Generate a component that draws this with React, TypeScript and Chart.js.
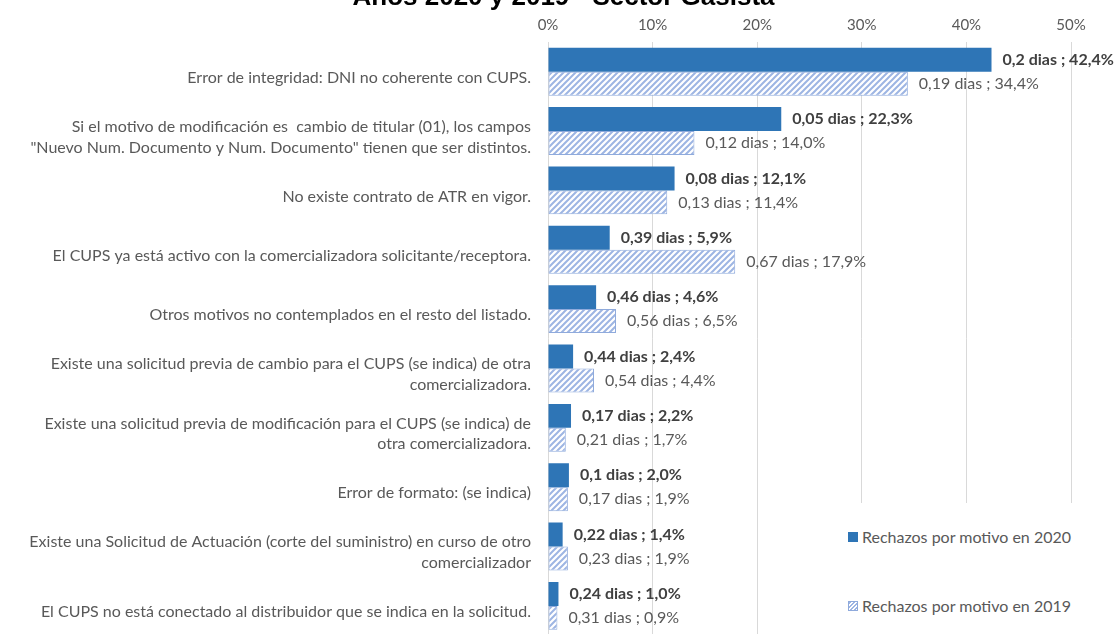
import React, { useEffect, useRef } from "react";
import { Chart, registerables } from "chart.js";

Chart.register(...registerables);

const categories: string[][] = [
  ["Error de integridad: DNI no coherente con CUPS."],
  ["Si el motivo de modificación es  cambio de titular (01), los campos", "\"Nuevo Num. Documento y Num. Documento\" tienen que ser distintos."],
  ["No existe contrato de ATR en vigor."],
  ["El CUPS ya está activo con la comercializadora solicitante/receptora."],
  ["Otros motivos no contemplados en el resto del listado."],
  ["Existe una solicitud previa de cambio para el CUPS (se indica) de otra", "comercializadora."],
  ["Existe una solicitud previa de modificación para el CUPS (se indica) de", "otra comercializadora."],
  ["Error de formato: (se indica)"],
  ["Existe una Solicitud de Actuación (corte del suministro) en curso de otro", "comercializador"],
  ["El CUPS no está conectado al distribuidor que se indica en la solicitud."],
];

const values2020 = [42.4, 22.3, 12.1, 5.9, 4.6, 2.4, 2.2, 2.0, 1.4, 1.0];
const values2019 = [34.4, 14.0, 11.4, 17.9, 6.5, 4.4, 1.7, 1.9, 1.9, 0.9];
const days2020 = ["0,2", "0,05", "0,08", "0,39", "0,46", "0,44", "0,17", "0,1", "0,22", "0,24"];
const days2019 = ["0,19", "0,12", "0,13", "0,67", "0,56", "0,54", "0,21", "0,17", "0,23", "0,31"];
const seriesNames = ["Rechazos por motivo en 2020", "Rechazos por motivo en 2019"];
const titleText = "Años 2020 y 2019 - Sector Gasista";

const FONT = "Lato, 'Noto Sans', sans-serif";
const BLUE = "#2E75B6";
const HATCH = "#9DB5E3";
const HATCH_BORDER = "#8FAADC";

function makePattern(): CanvasPattern | string {
  const c = document.createElement("canvas");
  c.width = 6;
  c.height = 6;
  const ctx = c.getContext("2d");
  if (!ctx) return HATCH;
  ctx.fillStyle = "#ffffff";
  ctx.fillRect(0, 0, 6, 6);
  ctx.strokeStyle = HATCH;
  ctx.lineWidth = 2;
  ctx.beginPath();
  ctx.moveTo(-1, 7);
  ctx.lineTo(7, -1);
  ctx.moveTo(-4, 4);
  ctx.lineTo(4, -4);
  ctx.moveTo(2, 10);
  ctx.lineTo(10, 2);
  ctx.stroke();
  const p = ctx.createPattern(c, "repeat");
  return p || HATCH;
}

const fmt = (v: number) => v.toFixed(1).replace(".", ",");

const labelPlugin = {
  id: "barLabels",
  afterDatasetsDraw(chart: any) {
    const ctx = chart.ctx;
    ctx.save();
    chart.data.datasets.forEach((ds: any, di: number) => {
      const meta = chart.getDatasetMeta(di);
      const days = di === 0 ? days2020 : days2019;
      ctx.font = (di === 0 ? "bold " : "") + "16px " + FONT;
      ctx.fillStyle = di === 0 ? "#404040" : "#595959";
      ctx.textAlign = "left";
      ctx.textBaseline = "middle";
      meta.data.forEach((bar: any, i: number) => {
        const text = `${days[i]} dias ; ${fmt(ds.data[i])}%`;
        ctx.fillText(text, bar.x + 11, bar.y);
      });
    });
    ctx.restore();
  },
};

const titlePlugin = {
  id: "offsetTitle",
  afterDraw(chart: any) {
    const ctx = chart.ctx;
    ctx.save();
    ctx.font = "bold 26px 'Liberation Sans', Arial, sans-serif";
    ctx.fillStyle = "#000000";
    ctx.textAlign = "center";
    ctx.textBaseline = "alphabetic";
    ctx.fillText(titleText, 563.5, 29);
    ctx.restore();
  },
};

export default function App() {
  const ref = useRef<HTMLCanvasElement>(null);

  useEffect(() => {
    if (!ref.current) return;
    const pattern = makePattern();
    const chart = new Chart(ref.current, {
      type: "bar",
      data: {
        labels: categories,
        datasets: [
          {
            label: seriesNames[0],
            data: values2020,
            backgroundColor: BLUE,
            borderWidth: 0,
            categoryPercentage: 0.807,
            barPercentage: 1,
          },
          {
            label: seriesNames[1],
            data: values2019,
            backgroundColor: pattern as any,
            borderColor: HATCH_BORDER,
            borderWidth: 1,
            borderSkipped: false,
            categoryPercentage: 0.807,
            barPercentage: 1,
          },
        ],
      },
      options: {
        indexAxis: "y",
        animation: false,
        responsive: false,
        maintainAspectRatio: false,
        layout: { padding: { left: 0, right: 49, top: 33, bottom: 9 } },
        plugins: {
          legend: { display: false },
          tooltip: { enabled: false },
          title: { display: false },
        },
        scales: {
          x: {
            position: "top",
            min: 0,
            max: 50,
            ticks: {
              stepSize: 10,
              color: "#595959",
              font: { family: FONT, size: 15 },
              padding: 8,
              callback: (v: any) => `${v}%`,
            },
            grid: { color: "#D9D9D9", lineWidth: 1, drawTicks: false, tickLength: 0 },
            border: { display: false },
            afterFit: (s: any) => {
              s.height = 33;
            },
          },
          y: {
            ticks: {
              color: "#595959",
              font: { family: FONT, size: 16, lineHeight: 1.3 },
              padding: 17,
              labelOffset: 6,
              autoSkip: false,
            },
            grid: { display: false, drawTicks: false },
            border: { display: false },
            afterFit: (s: any) => {
              s.width = 548;
            },
          },
        },
      },
      plugins: [labelPlugin, titlePlugin],
    });
    return () => chart.destroy();
  }, []);

  const legendText: React.CSSProperties = {
    position: "absolute",
    left: 62,
    fontFamily: FONT,
    fontSize: 16,
    color: "#595959",
    lineHeight: "18px",
    whiteSpace: "nowrap",
  };

  return (
    <div style={{ position: "fixed", left: 0, top: 0, width: 1120, height: 634, overflow: "hidden", background: "#fff" }}>
      <div style={{ position: "absolute", left: 0, top: -24, width: 1120, height: 687 }}>
        <canvas ref={ref} width={1120} height={687} style={{ width: 1120, height: 687, display: "block" }} />
      </div>
      <div style={{ position: "absolute", left: 800, top: 503, width: 320, height: 140, background: "#fff" }}>
        <div style={{ position: "absolute", left: 48, top: 29, width: 10, height: 10, background: BLUE }} />
        <div style={{ ...legendText, top: 25 }}>{seriesNames[0]}</div>
        <div
          style={{
            position: "absolute",
            left: 48,
            top: 98,
            width: 8,
            height: 8,
            border: `1px solid ${HATCH_BORDER}`,
            background: `repeating-linear-gradient(135deg, ${HATCH} 0px, ${HATCH} 1.5px, #ffffff 1.5px, #ffffff 3px)`,
          }}
        />
        <div style={{ ...legendText, top: 94 }}>{seriesNames[1]}</div>
      </div>
    </div>
  );
}
